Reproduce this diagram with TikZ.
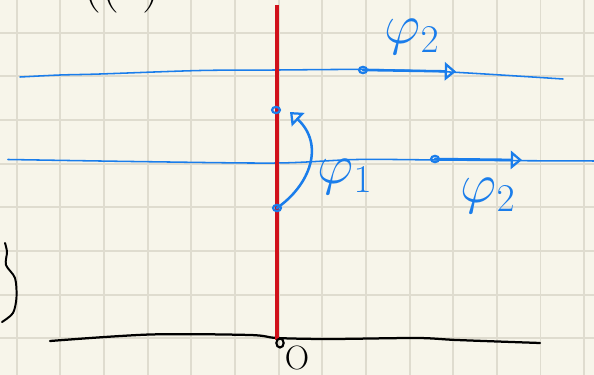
\RequirePackage{fix-cm}
\documentclass[tikz,border=0pt]{standalone}
\usetikzlibrary{arrows.meta}
\definecolor{paper}{HTML}{F7F5EA}
\definecolor{gridln}{HTML}{DFDCCF}
\definecolor{pen}{HTML}{1A7DEB}
\definecolor{axisred}{HTML}{D0101A}
\tikzset{
  penline/.style={pen, line width=1.1pt, line cap=round, line join=round},
  vecline/.style={pen, line width=1.8pt, line cap=round, -{Triangle[open, length=8pt, width=13pt, line width=1.6pt]}},
  dot/.style={pen, line width=1.6pt},
  lbl/.style={pen, inner sep=0pt, font=\fontsize{40}{40}\selectfont},
}
\begin{document}
\begin{tikzpicture}[x=0.025cm,y=-0.025cm]
  % Papier und Raster
  \fill[paper] (0,0) rectangle (594,375);
  \useasboundingbox (0,0) rectangle (594,375);
  \clip (0,0) rectangle (594,375);
  \foreach \k in {0,...,13}
    \draw[gridln, line width=1.4pt] ({16.7+43.65*\k},0) -- ({16.7+43.65*\k},375);
  \foreach \k in {-1,...,8}
    \draw[gridln, line width=1.4pt] (0,{32.7+43.65*\k}) -- (594,{32.7+43.65*\k});
  % Ueberschrift (abgeschnitten)
  \node[black, inner sep=0pt, anchor=south, font=\fontsize{36}{36}\selectfont] (ttl) at (122,13) {((2)};
  % Klammer links
  \draw[black, line width=1.4pt, line cap=round] plot[smooth] coordinates {(5,243) (7,252) (6,265) (15,278) (16.5,297) (13,313) (2,322)};
  % Achse
  \draw[black, line width=1.6pt, line cap=round] plot[smooth] coordinates {(50,341) (150,334.5) (250,335) (277,338) (330,339) (417,338) (457,340) (540,343)};
  % blaue Linien
  \draw[penline] plot[smooth] coordinates {(20,77) (60,75) (100,74) (200,70.5) (277,70) (367,69.5) (450,72) (563,79)};
  \draw[penline] plot[smooth] coordinates {(8,159.5) (147,161.7) (277,163) (357,159.5) (440,160) (523,160.7) (600,161)};
  % rote Linie
  \draw[axisred, line width=2.2pt] (277,5) -- (277,340);
  % Punkte
  \coordinate (up) at (276,110);
  \coordinate (lo) at (277,208);
  \coordinate (orig) at (280,343);
  \coordinate (a0) at (363,70);
  \coordinate (a1) at (456,71.5);
  \coordinate (b0) at (435,159);
  \coordinate (b1) at (522,160);
  \coordinate (hd) at (290,112);
  \foreach \p in {up,lo,a0,b0}
    \draw[dot] (\p) circle[x radius=2.8pt, y radius=2.2pt];
  \draw[black, line width=1.5pt] (orig) circle[x radius=2.6pt, y radius=3.2pt];
  % Pfeile
  \draw[vecline] (a0) -- (a1);
  \draw[vecline] (b0) -- (b1);
  \draw[vecline] (lo) .. controls (310,185) and (325,145) .. (hd);
  % Beschriftungen
  \node[lbl] (phiA) at (412,37) {$\varphi_2$};
  \node[lbl] (phiB) at (345,177) {$\varphi_1$};
  \node[lbl] (phiC) at (488,196) {$\varphi_2$};
  \node[black, inner sep=0pt, font=\fontsize{24}{24}\selectfont] (o) at (297,358) {O};
\end{tikzpicture}
\end{document}
